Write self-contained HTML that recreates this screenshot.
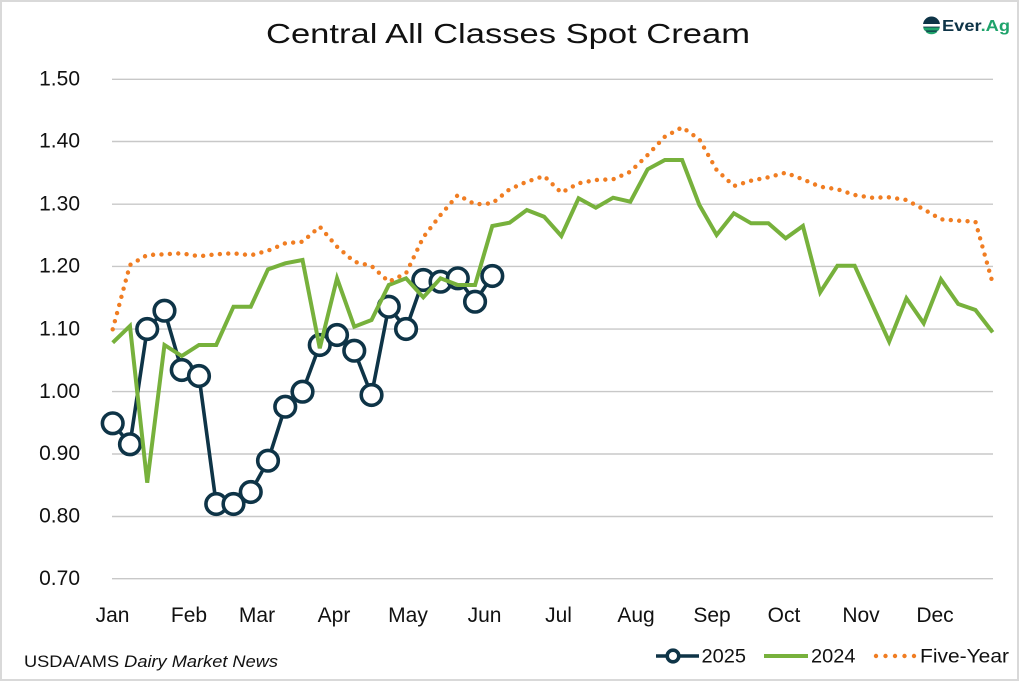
<!DOCTYPE html>
<html><head><meta charset="utf-8"><style>
html,body{margin:0;padding:0;background:#fff;}
svg{display:block;}
text{font-family:"Liberation Sans",sans-serif;fill:#111;}
</style></head><body>
<svg width="1024" height="683" viewBox="0 0 1024 683" xmlns="http://www.w3.org/2000/svg">
<rect x="0" y="0" width="1024" height="683" fill="#fff"/>
<rect x="1" y="1" width="1017" height="679" fill="#fff" stroke="#d9d9d9" stroke-width="2"/>

<!-- title -->
<text x="266" y="43" font-size="28" textLength="484" lengthAdjust="spacingAndGlyphs">Central All Classes Spot Cream</text>

<!-- logo -->
<g>
  <circle cx="931.5" cy="25" r="8.5" fill="#0e3447"/>
  <rect x="923" y="24" width="17" height="2.6" fill="#fff"/>
  <path d="M923.2 27.5 h16.6 a8.5 8.5 0 0 1 -1.2 3 h-14.2 a8.5 8.5 0 0 1 -1.2 -3z" fill="#1fa36b"/>
  <path d="M925.5 31.8 h12 a8.5 8.5 0 0 1 -12 0z" fill="#1fa36b"/>
  <text x="942" y="31" font-size="16" font-weight="bold" textLength="68" lengthAdjust="spacingAndGlyphs"><tspan fill="#0e3447">Ever</tspan><tspan fill="#1fa36b">.Ag</tspan></text>
</g>

<!-- gridlines -->
<g stroke="#c8c8c8" stroke-width="1.4">
  <line x1="112" x2="993" y1="79.3" y2="79.3"/>
  <line x1="112" x2="993" y1="141.5" y2="141.5"/>
  <line x1="112" x2="993" y1="204.2" y2="204.2"/>
  <line x1="112" x2="993" y1="266.4" y2="266.4"/>
  <line x1="112" x2="993" y1="329.1" y2="329.1"/>
  <line x1="112" x2="993" y1="391.6" y2="391.6"/>
  <line x1="112" x2="993" y1="454" y2="454"/>
  <line x1="112" x2="993" y1="516.5" y2="516.5"/>
  <line x1="112" x2="993" y1="578.7" y2="578.7"/>
</g>

<!-- y labels -->
<g font-size="21" text-anchor="end">
  <text x="80" y="85.5">1.50</text>
  <text x="80" y="147.7">1.40</text>
  <text x="80" y="210.4">1.30</text>
  <text x="80" y="272.6">1.20</text>
  <text x="80" y="335.3">1.10</text>
  <text x="80" y="397.8">1.00</text>
  <text x="80" y="460.2">0.90</text>
  <text x="80" y="522.7">0.80</text>
  <text x="80" y="584.9">0.70</text>
</g>

<!-- x labels -->
<g font-size="21" text-anchor="middle">
  <text x="112.5" y="622">Jan</text>
  <text x="189" y="622">Feb</text>
  <text x="257" y="622">Mar</text>
  <text x="334" y="622">Apr</text>
  <text x="408" y="622">May</text>
  <text x="484.5" y="622">Jun</text>
  <text x="558.5" y="622">Jul</text>
  <text x="636" y="622">Aug</text>
  <text x="712" y="622">Sep</text>
  <text x="784" y="622">Oct</text>
  <text x="861" y="622">Nov</text>
  <text x="935" y="622">Dec</text>
</g>

<!-- 2025 series -->
<polyline fill="none" stroke="#0e3447" stroke-width="3.6" stroke-linejoin="round"
 points="112.7,423.3 129.96,444.3 147.21,329 164.47,310.7 181.72,370 198.98,376 216.23,504 233.49,504 250.74,492 268,460.7 285.25,406.7 302.51,391.7 319.76,345 337.02,335 354.27,350.7 371.53,395 388.78,306.7 406.04,329 423.29,280 440.55,281.7 457.8,278.3 475.06,301.7 492.31,276"/>
<g fill="#fff" stroke="#0e3447" stroke-width="3.6">
  <circle cx="112.7" cy="423.3" r="10.3"/>
  <circle cx="129.96" cy="444.3" r="10.3"/>
  <circle cx="147.21" cy="329" r="10.3"/>
  <circle cx="164.47" cy="310.7" r="10.3"/>
  <circle cx="181.72" cy="370" r="10.3"/>
  <circle cx="198.98" cy="376" r="10.3"/>
  <circle cx="216.23" cy="504" r="10.3"/>
  <circle cx="233.49" cy="504" r="10.3"/>
  <circle cx="250.74" cy="492" r="10.3"/>
  <circle cx="268" cy="460.7" r="10.3"/>
  <circle cx="285.25" cy="406.7" r="10.3"/>
  <circle cx="302.51" cy="391.7" r="10.3"/>
  <circle cx="319.76" cy="345" r="10.3"/>
  <circle cx="337.02" cy="335" r="10.3"/>
  <circle cx="354.27" cy="350.7" r="10.3"/>
  <circle cx="371.53" cy="395" r="10.3"/>
  <circle cx="388.78" cy="306.7" r="10.3"/>
  <circle cx="406.04" cy="329" r="10.3"/>
  <circle cx="423.29" cy="280" r="10.3"/>
  <circle cx="440.55" cy="281.7" r="10.3"/>
  <circle cx="457.8" cy="278.3" r="10.3"/>
  <circle cx="475.06" cy="301.7" r="10.3"/>
  <circle cx="492.31" cy="276" r="10.3"/>
</g>

<!-- 2024 series -->
<polyline fill="none" stroke="#77b13c" stroke-width="4" stroke-linejoin="miter" stroke-miterlimit="4"
 points="112.7,342.7 129.96,326 147.21,482.7 164.47,345 181.72,356 198.98,345 216.23,345 233.49,306.7 250.74,306.7 268,269.3 285.25,263.3 302.51,260 319.76,348.3 337.02,278.3 354.27,326.7 371.53,320 388.78,285 406.04,278.3 423.29,297.3 440.55,278.3 457.8,285 475.06,285 492.31,226 509.57,222.7 526.82,210 544.08,216.7 561.33,236 578.59,198.3 595.84,207.7 613.1,197.7 630.35,201.7 647.61,169.3 664.86,160 682.12,160 699.37,205 716.63,235 733.88,213.3 751.14,223.3 768.39,223.3 785.65,238.3 802.9,226 820.16,292.3 837.41,265.7 854.67,265.7 871.92,303.7 889.18,341.7 906.43,298.3 923.69,323.3 940.94,279.3 958.2,304 975.45,310 992.71,332.3"/>

<!-- five-year series -->
<polyline fill="none" stroke="#f07d22" stroke-width="4.4" stroke-linecap="round" stroke-dasharray="0 8.4" stroke-linejoin="round"
 points="112.7,329.3 129.96,265 147.21,255 164.47,254.3 181.72,253.3 198.98,256.3 216.23,254.3 233.49,253.3 250.74,255.3 268,250.7 285.25,243.3 302.51,241.7 319.76,226.7 337.02,246.7 354.27,261.7 371.53,266 388.78,281.7 406.04,273.3 423.29,237.3 440.55,215 457.8,195 475.06,204.3 492.31,203.3 509.57,189.3 526.82,181.7 544.08,176 561.33,192.7 578.59,183.3 595.84,180 613.1,179.3 630.35,171.7 647.61,155 664.86,136.7 682.12,127.3 699.37,139.3 716.63,170 733.88,186 751.14,180.7 768.39,177.3 785.65,172.7 802.9,179.3 820.16,186.7 837.41,189.3 854.67,195 871.92,197.7 889.18,197.3 906.43,200 923.69,209.3 940.94,219.3 958.2,220.7 975.45,221.7 992.71,283.3"/>

<!-- source -->
<text x="24" y="667" font-size="17" textLength="254" lengthAdjust="spacingAndGlyphs">USDA/AMS <tspan font-style="italic">Dairy Market News</tspan></text>

<!-- legend -->
<line x1="656" x2="699" y1="656" y2="656" stroke="#0e3447" stroke-width="3.6"/>
<circle cx="673" cy="656" r="5.8" fill="#fff" stroke="#0e3447" stroke-width="3.6"/>
<text x="701.5" y="662.5" font-size="19.5" textLength="44.5" lengthAdjust="spacingAndGlyphs">2025</text>
<line x1="764" x2="808" y1="656" y2="656" stroke="#77b13c" stroke-width="4"/>
<text x="811" y="662.5" font-size="19.5" textLength="44.5" lengthAdjust="spacingAndGlyphs">2024</text>
<g fill="#f07d22">
  <circle cx="876" cy="656" r="2.2"/>
  <circle cx="885.5" cy="656" r="2.2"/>
  <circle cx="895" cy="656" r="2.2"/>
  <circle cx="904.5" cy="656" r="2.2"/>
  <circle cx="914" cy="656" r="2.2"/>
</g>
<text x="920" y="662.5" font-size="19.5" textLength="89" lengthAdjust="spacingAndGlyphs">Five-Year</text>
</svg>
</body></html>
